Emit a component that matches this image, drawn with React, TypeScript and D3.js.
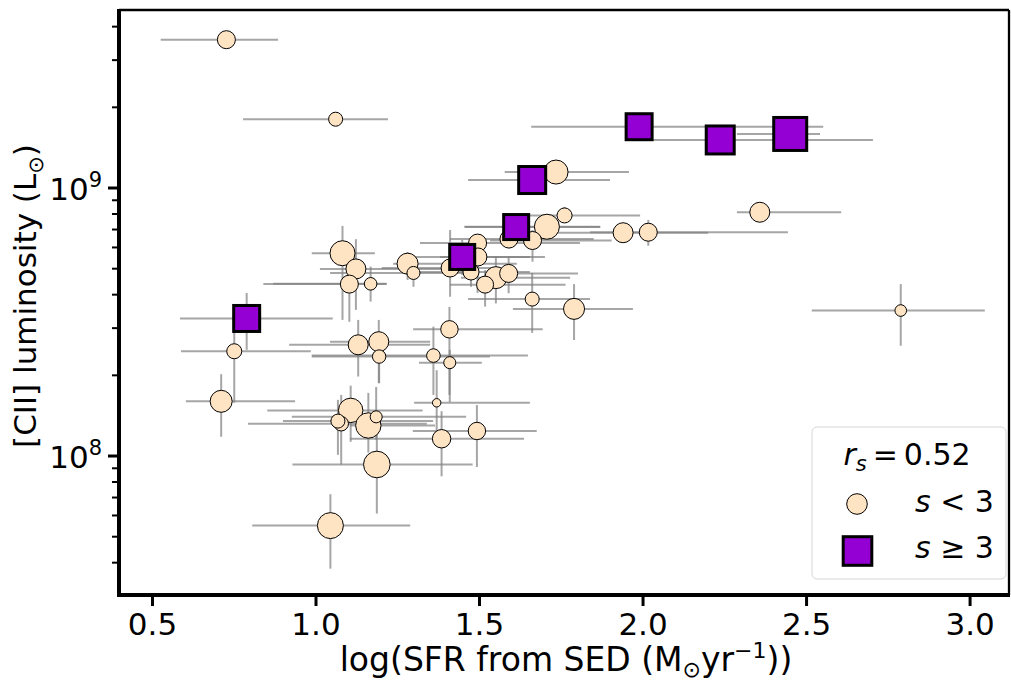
import React from "react";
import * as d3 from "d3";

// ---- data: sources with s < 3 (circles) ----
const circX = [0.726, 1.060, 1.734, 1.760, 1.706, 1.939, 2.016, 2.357, 2.788, 1.789, 1.661, 1.408, 1.359, 1.409, 1.369, 1.384, 1.492, 0.710, 0.750, 1.106, 1.077, 1.067, 1.160, 1.184, 1.186, 1.044, 1.129, 1.192, 1.193, 1.081, 1.122, 1.102, 1.167, 1.280, 1.298, 1.494, 1.495, 1.410, 1.474, 1.550, 1.589, 1.517, 1.590, 1.662];
const circXLo = [0.525, 0.777, 1.577, 1.624, 1.453, 1.737, 1.838, 2.287, 2.516, 1.602, 1.465, 1.297, 0.987, 1.315, 1.300, 1.104, 1.296, 0.602, 0.587, 0.851, 0.792, 0.899, 1.104, 0.926, 0.928, 0.805, 0.918, 1.043, 0.987, 0.987, 1.012, 0.839, 0.869, 1.236, 1.043, 1.318, 1.379, 1.201, 1.318, 1.443, 1.520, 1.410, 1.410, 1.532];
const circXHi = [0.884, 1.220, 1.957, 1.991, 1.869, 2.199, 2.443, 2.606, 3.045, 1.969, 1.838, 1.693, 1.648, 1.507, 1.654, 1.636, 1.675, 0.936, 0.984, 1.326, 1.339, 1.358, 1.364, 1.459, 1.479, 1.288, 1.349, 1.349, 1.532, 1.180, 1.400, 1.216, 1.216, 1.614, 1.471, 1.807, 1.654, 1.563, 1.654, 1.777, 1.801, 1.763, 1.849, 1.904];
// [CII] luminosity in units of 1e8 Lsun
const circL = [35.76, 18.06, 11.47, 7.90, 7.17, 6.81, 6.84, 8.12, 3.49, 3.54, 3.85, 2.97, 2.37, 2.23, 1.58, 1.16, 1.24, 1.60, 2.46, 1.48, 1.32, 1.35, 1.30, 1.40, 0.93, 0.55, 2.60, 2.67, 2.35, 5.71, 4.99, 4.38, 4.39, 5.22, 4.82, 6.23, 5.53, 5.03, 4.86, 4.63, 4.80, 4.36, 6.45, 6.37];
const circLLo = [35.76, 18.06, 11.47, 7.47, 7.17, 6.81, 6.09, 7.70, 2.58, 2.71, 2.88, 1.69, 1.69, 1.59, 1.25, 0.84, 0.91, 1.18, 1.58, 1.13, 0.93, 1.01, 1.03, 1.15, 0.61, 0.38, 1.98, 1.87, 1.87, 3.22, 3.51, 3.17, 3.77, 4.54, 4.28, 4.06, 4.94, 3.93, 4.28, 3.71, 4.05, 3.61, 5.96, 5.31];
const circLHi = [35.76, 18.06, 11.47, 8.50, 7.17, 6.81, 7.60, 8.50, 4.38, 4.38, 4.82, 3.60, 3.04, 2.49, 2.09, 1.47, 1.55, 2.02, 3.27, 1.83, 1.69, 1.62, 1.72, 1.81, 1.36, 0.72, 3.22, 3.22, 2.49, 7.22, 6.44, 5.62, 5.09, 5.77, 5.48, 6.74, 6.13, 6.97, 5.30, 5.54, 5.54, 4.94, 7.03, 6.97];
const circS = [168, 102, 299, 117, 324, 207, 168, 207, 70, 229, 102, 157, 96, 75, 37, 176, 157, 251, 117, 309, 110, 102, 334, 75, 367, 350, 207, 207, 93, 324, 207, 168, 82, 229, 88, 168, 168, 168, 133, 251, 168, 150, 168, 168];

// ---- data: sources with s >= 3 (squares) ----
const sqX = [0.788, 1.447, 1.612, 1.661, 1.988, 2.236, 2.450];
const sqXLo = [0.584, 1.272, 1.456, 1.465, 1.658, 2.025, 2.287];
const sqXHi = [1.051, 1.700, 1.869, 1.899, 2.551, 2.703, 2.541];
const sqL = [3.26, 5.53, 7.15, 10.71, 16.93, 15.11, 15.91];
const sqLLo = [2.49, 4.74, 6.45, 9.66, 15.63, 13.86, 14.72];
const sqLHi = [4.06, 6.40, 7.93, 11.68, 18.24, 16.46, 17.18];
const sqS = [350, 324, 324, 378, 350, 406, 564];

const xTicks = [0.5, 1.0, 1.5, 2.0, 2.5, 3.0];
const yMajor = [1e8, 1e9];
const yExp = ["8", "9"];
const legendTitle = "0.52";
const legendLabels = ["< 3", "\u2265 3"];

const UNIT = 1e8;
const FONT = "DejaVu Sans";

export default function App() {
  const W = 1011, H = 682;
  const L = 119, R = 1009, T = 10, B = 595;
  const x = d3.scaleLinear().domain([0.3976, 3.119]).range([L, R]);
  const y = d3.scaleLog().domain([3.03e7, 4.615e9]).range([B, T]);
  const size = d3.scaleSqrt().domain([0, 1]).range([0, 1.389]); // sqrt(s) pt -> px

  const minor: number[] = [];
  for (let e = 7; e <= 9; e++) for (let m = 2; m <= 9; m++) {
    const v = m * Math.pow(10, e);
    if (v >= 3.03e7 && v <= 4.615e9) minor.push(v);
  }

  const errColor = "#808080";
  const circles = circX.map((v, i) => ({
    x: v, xlo: circXLo[i], xhi: circXHi[i],
    l: circL[i] * UNIT, llo: circLLo[i] * UNIT, lhi: circLHi[i] * UNIT, s: circS[i],
  }));
  const squares = sqX.map((v, i) => ({
    x: v, xlo: sqXLo[i], xhi: sqXHi[i],
    l: sqL[i] * UNIT, llo: sqLLo[i] * UNIT, lhi: sqLHi[i] * UNIT, s: sqS[i],
  }));

  const errBars = (d: any, k: string) => (
    <g key={k}>
      <line x1={x(d.xlo)} x2={x(d.xhi)} y1={y(d.l)} y2={y(d.l)} stroke={errColor} strokeOpacity={0.7} strokeWidth={2} />
      {d.lhi > d.llo && (
        <line x1={x(d.x)} x2={x(d.x)} y1={y(d.llo)} y2={y(d.lhi)} stroke={errColor} strokeOpacity={0.7} strokeWidth={2} />
      )}
    </g>
  );

  return (
    <svg width={W} height={H} style={{ position: "absolute", left: 0, top: 0, background: "#fff" }} fontFamily={FONT}>
      <rect x={0} y={0} width={W} height={H} fill="#fff" />
      <defs>
        <clipPath id="plot"><rect x={L} y={T} width={R - L} height={B - T} /></clipPath>
      </defs>
      <g clipPath="url(#plot)">
        {circles.map((d, i) => errBars(d, "ec" + i))}
        {squares.map((d, i) => errBars(d, "es" + i))}
        {circles.map((d, i) => (
          <circle key={"c" + i} cx={x(d.x)} cy={y(d.l)} r={size(d.s) / 2} fill="#FFE4C4" stroke="#000" strokeWidth={1} />
        ))}
        {squares.map((d, i) => {
          const a = size(d.s);
          return <rect key={"s" + i} x={x(d.x) - a / 2} y={y(d.l) - a / 2} width={a} height={a} fill="#9400D3" stroke="#000" strokeWidth={3} />;
        })}
      </g>

      {/* spines */}
      <line x1={L} x2={R} y1={T} y2={T} stroke="#000" strokeWidth={2.3} />
      <line x1={R} x2={R} y1={T} y2={B} stroke="#000" strokeWidth={2.3} />
      <line x1={L} x2={L} y1={T - 1} y2={B + 2} stroke="#000" strokeWidth={4} />
      <line x1={L - 2} x2={R + 1} y1={B} y2={B} stroke="#000" strokeWidth={4} />

      {/* x ticks */}
      {xTicks.map((t) => (
        <g key={"xt" + t}>
          <line x1={x(t)} x2={x(t)} y1={B} y2={B + 11} stroke="#000" strokeWidth={3} />
          <text x={x(t)} y={635} textAnchor="middle" fontSize={31}>{d3.format(".1f")(t)}</text>
        </g>
      ))}
      {/* y minor ticks */}
      {minor.map((t) => (
        <line key={"ym" + t} x1={L - 7} x2={L} y1={y(t)} y2={y(t)} stroke="#000" strokeWidth={2} />
      ))}
      {/* y major ticks */}
      {yMajor.map((t, i) => (
        <g key={"yt" + t}>
          <line x1={L - 11} x2={L} y1={y(t)} y2={y(t)} stroke="#000" strokeWidth={3} />
          <text x={102} y={y(t) + 12} textAnchor="end" fontSize={31}>
            10<tspan fontSize={21} dy={-13}>{yExp[i]}</tspan>
          </text>
        </g>
      ))}

      {/* axis labels */}
      <text x={(L + R) / 2 + 2} y={671} textAnchor="middle" fontSize={33}>
        log(SFR from SED (M<tspan fontSize={22} dy={6}>{"\u2299"}</tspan><tspan dy={-6}>yr</tspan><tspan fontSize={22} dy={-13}>{"\u22121"}</tspan><tspan dy={13}>))</tspan>
      </text>
      <text transform="translate(36, 296) rotate(-90)" textAnchor="middle" fontSize={31}>
        [CII] luminosity (L<tspan fontSize={21} dy={7}>{"\u2299"}</tspan><tspan dy={-7}>)</tspan>
      </text>

      {/* legend */}
      <g>
        <rect x={812} y={427} width={194} height={152} rx={5} fill="#fff" stroke="#d6d6d6" strokeWidth={1} />
        <text x={907} y={465} textAnchor="middle" fontSize={30}>
          <tspan fontStyle="italic">r</tspan><tspan fontStyle="italic" fontSize={21} dy={6}>s</tspan><tspan dy={-6}>{"\u2009=\u2009" + legendTitle}</tspan>
        </text>
        <circle cx={857} cy={504} r={10.3} fill="#FFE4C4" stroke="#000" strokeWidth={1} />
        <text x={915} y={512} fontSize={30}><tspan fontStyle="italic">s</tspan> {legendLabels[0]}</text>
        <rect x={857.5 - 14.3} y={551 - 14.3} width={28.6} height={28.6} fill="#9400D3" stroke="#000" strokeWidth={3} />
        <text x={915} y={558} fontSize={30}><tspan fontStyle="italic">s</tspan> {legendLabels[1]}</text>
      </g>
    </svg>
  );
}
